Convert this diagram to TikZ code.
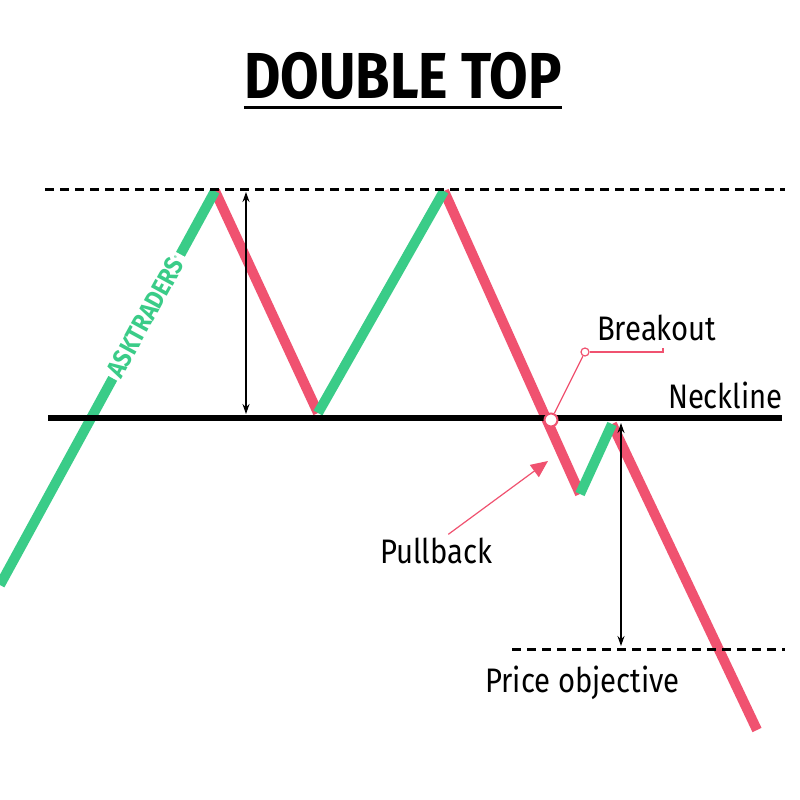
\documentclass[tikz,border=0pt]{standalone}
\usepackage{fontspec}
\setmainfont{Fira Sans}[FakeStretch=0.86]
\usetikzlibrary{arrows.meta}
\definecolor{upgreen}{RGB}{58,204,136}
\definecolor{downred}{RGB}{240,82,112}

\begin{document}
\begin{tikzpicture}[x=1pt, y=-1pt,
  leg/.style={line width=10pt, line cap=butt},
  up/.style={leg, draw=upgreen},
  down/.style={leg, draw=downred},
  lvl/.style={line width=3pt, dash pattern=on 9pt off 6pt},
  span/.style={<->, line width=1.2pt},
  lbl/.style={font=\fontsize{34}{34}\selectfont, inner sep=0pt},
  dot/.style={circle, draw=downred, fill=white, inner sep=0pt, minimum size=#1},
  dot/.default=13pt,
  >={Stealth[length=10pt, width=7pt]}]
  \useasboundingbox[fill=white] (0,0) rectangle (800,800);
  % chart points
  \coordinate (p0) at (0,585);
  \coordinate (top1) at (215,191);
  \coordinate (low1) at (318,413);
  \coordinate (top2) at (444,191);
  \coordinate (low2) at (580,494);
  \coordinate (pull) at (612,424);
  \coordinate (end) at (757,730);
  % title
  \node[font=\fontsize{65}{65}\bfseries\selectfont, inner sep=0pt] (title) at (403,76) {DOUBLE TOP};
  \draw[line width=3pt] ([yshift=-9pt]title.base west) -- ([yshift=-9pt]title.base east);
  % price legs
  \draw[down] (top1) -- (low1);
  \draw[down] (top2) -- (low2);
  \draw[down] (pull) -- (end);
  \draw[up] (p0) -- (top1);
  \draw[up] (low1) -- (top2);
  \draw[up] (low2) -- (pull);
  \node[rotate=61.4, fill=white, text=upgreen, inner sep=3pt,
        font=\fontsize{26}{26}\bfseries\selectfont] (brand) at (146,316) {ASKTRADERS\textsuperscript{\tiny ®}};
  % levels
  \coordinate (topL) at (45,189);   \coordinate (topR) at (785,189);
  \coordinate (neckL) at (48,418);  \coordinate (neckR) at (782,418);
  \coordinate (objL) at (512,649);  \coordinate (objR) at (785,649);
  \draw[lvl] (topL) -- (topR);
  \draw[lvl] (objL) -- (objR);
  \draw[line width=6pt] (neckL) -- (neckR);
  % heights
  \coordinate (h1) at (246,192); \coordinate (h2) at (246,414);
  \coordinate (h3) at (621,423); \coordinate (h4) at (621,646);
  \draw[span] (h1) -- (h2);
  \draw[span] (h3) -- (h4);
  % labels
  \node[lbl, anchor=base east] (neck) at (783,408) {Neckline};
  \node[lbl, anchor=base west] (brk) at (597,340) {Breakout};
  \node[lbl, anchor=base west] (pb) at (380,563) {Pullback};
  \node[lbl, anchor=base west] (obj) at (485,692) {Price objective};
  % breakout marker
  \node[dot, line width=2pt] (bo) at (551,420) {};
  \node[dot=8pt, line width=1.2pt] (pin) at (585,352) {};
  \coordinate (pinend) at (663,352);
  \draw[downred, line width=1.2pt] (bo) -- (pin);
  \draw[downred, line width=1.2pt] (pin) -- (pinend) -- ++(0,-4);
  % pullback pointer
  \coordinate (pbtip) at (548,461);
  \draw[downred, line width=1.2pt, -{Triangle[length=17pt, width=15pt]}]
    ([xshift=12pt, yshift=3pt]pb.north) -- (pbtip);
\end{tikzpicture}
\end{document}
